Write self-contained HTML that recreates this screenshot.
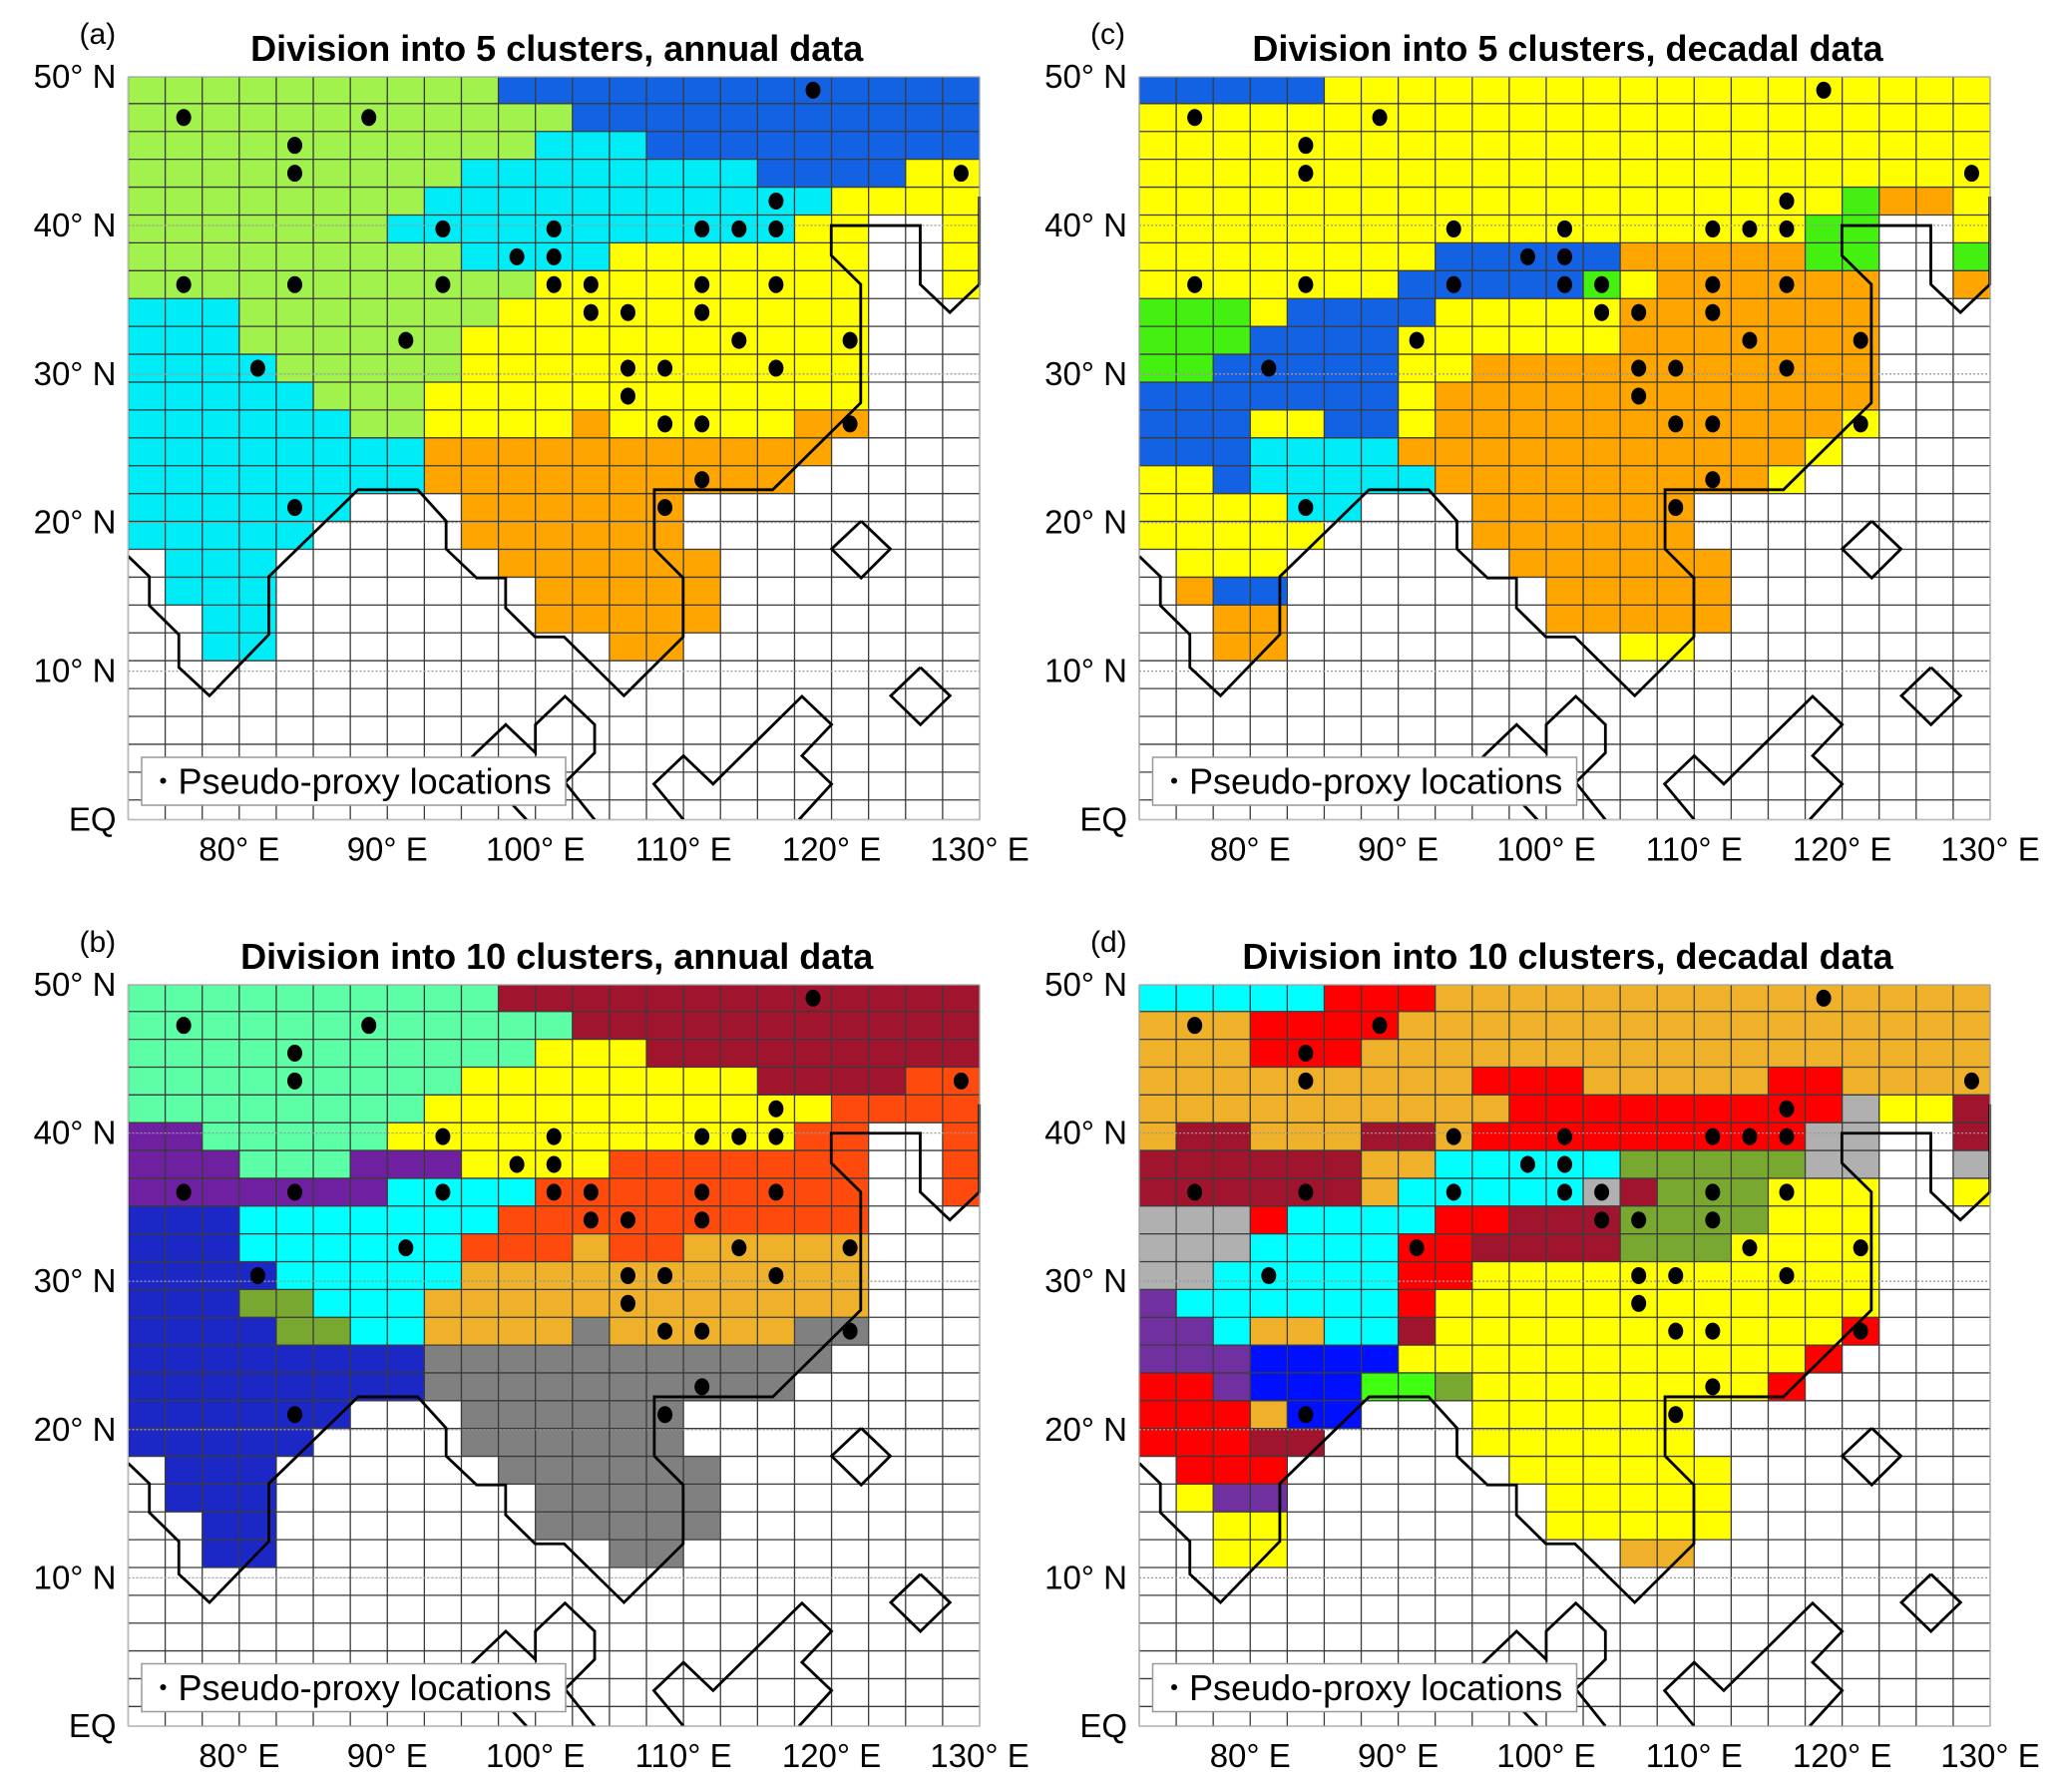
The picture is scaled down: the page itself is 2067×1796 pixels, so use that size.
<!DOCTYPE html>
<html><head><meta charset="utf-8">
<style>
html,body{margin:0;padding:0;background:#fff;}
svg{display:block;}
text{font-family:"Liberation Sans",Arial,sans-serif;}
</style></head>
<body>
<svg id="fig" width="2067" height="1796" viewBox="0 0 2067 1796" xmlns="http://www.w3.org/2000/svg"></svg>
<script>
// ---- data ----
const lonTicks = [80, 90, 100, 110, 120, 130];
const lonTickLabels = ["80° E", "90° E", "100° E", "110° E", "120° E", "130° E"];
const latTicks = [50, 40, 30, 20, 10, 0];
const latTickLabels = ["50° N", "40° N", "30° N", "20° N", "10° N", "EQ"];

const gridA = ["G10B13","G12B11","G11C3B9","G9C8B4Y2","G8C11Y4","G7C11Y2.2Y1","G9C4Y7.2Y1","G11Y9.2Y1",
"C3G7Y10.3","C3G6Y11.3","C4G5Y11.3","C5G3Y12.3","C6G2Y4O1Y5O2.3","C8O11.4","C8O10.5","C6.3O6.8",
"C5.4O6.8",".1C3.6O6.7",".1C3.7O5.7",".2C2.7O5.7",".2C2.9O2.8"];
const gridC = ["B5Y18","Y23","Y23","Y23","Y19G1O2Y1","Y18G2.2Y1","Y8B5O5G2.2G1","Y7B5G1Y1O6.2O1",
"G3Y1B4Y5O7.3","G3B4Y6O7.3","G2B5Y2O11.3","B7Y1O12.3","B3Y2B2Y1O11Y1.3","B3C4O11Y1.4","Y2B1C5O9Y1.5",
"Y4C2.3O6.8","Y5.4O6.8",".1Y3.6O6.7",".1O1B2.7O5.7",".2O2.7O5.7",".2O2.9Y2.8"];
const gridB = ["T10R13","T12R11","T11Y3R9","T9Y8R4E2","T8Y11E4","P2T5Y11E2.2E1","P3T3P3Y4E7.2E1","P7C4E9.2E1",
"N3C7E10.3","N3C6E3A1E2A5.3","N4C5A11.3","N3O2C3A12.3","N4O2C2A4K1A5K2.3","N8K11.4","N8K10.5",
"N6.3K6.8","N5.4K6.8",".1N3.6K6.7",".1N3.7K5.7",".2N2.7K5.7",".2N2.9K2.8"];
const gridD = ["C5E3A15","A3E4A16","A3E3A17","A9E3A5E2A4","A10E9K1Y2R1","A1R2A3R2A1E9K2.2R1","R6A2C5O5K2.2K1",
"R6A1C5K1R1O3Y3.2Y1","K3E1C4E2R3O4Y3.3","K3C4E2R4O3Y4.3","K2C5E2Y11.3","P1C6E1Y12.3","P2C1A2C2R1Y11E1.3",
"P3N4Y11E1.4","E2P1N3G2O1Y8E1.5","E3A1N2.3Y6.8","E3R2.4Y6.8",".1E3.6Y6.7",".1Y1P2.7Y5.7",".2Y2.7Y5.7",".2Y2.9A2.8"];

const colorsA = {G:"#a2f24e",B:"#1462e4",C:"#00ecf6",Y:"#ffff00",O:"#ffa500"};
const colorsC = {G:"#44f010",B:"#1462e4",C:"#00ecf6",Y:"#ffff00",O:"#ffa500"};
const colorsB = {T:"#5cffa6",R:"#a0142e",E:"#ff4a0e",P:"#6e20a0",C:"#00ffff",N:"#1c28c6",A:"#efb02a",O:"#78a830",K:"#808080",Y:"#ffff00"};
const colorsD = {C:"#00ffff",E:"#ff0000",A:"#efb02a",R:"#a0142e",K:"#b0b0b0",O:"#78a830",Y:"#ffff00",P:"#7030a0",N:"#0010ff",G:"#40ff10"};

// proxy locations as [column, row] grid indices
const dotCols = [18,1,6,4,4,22,17,8,11,15,16,17,10,11,1,4,8,11,12,15,17,12,13,15,7,16,19,3,13,14,17,13,14,15,19,15,4,14];
const dotRows = [0,1,1,2,3,3,4,5,5,5,5,5,6,6,7,7,7,7,7,7,7,8,8,8,9,9,9,10,10,10,10,11,12,12,12,14,15,15];

// coastline polylines [lon, lat]
const coastMain = [[72.5,17.73],[73.93,16.36],[73.93,14.41],[75.92,12.46],[75.92,10.25],[77.99,8.34],[82,12.46],[82,16.36],
[88.03,22.21],[92.05,22.21],[93.97,20.1],[93.97,18.22],[96.03,16.27],[97.99,16.27],[97.99,14.25],[99.98,12.3],[101.94,12.3],
[105.98,8.34],[109.98,12.3],[109.98,16.27],[108.03,18.22],[108.03,22.21],[116.03,22.21],[121.97,28.06],[121.97,36.03],
[119.98,37.98],[119.98,39.99],[125.99,39.99],[125.99,36.03],[127.99,34.14],[129.98,36.03],[129.98,41.94]];
const coastDiamond1 = [[122,20.1],[123.97,18.22],[122,16.27],[120,18.22],[122,20.1]];
const coastDiamond2 = [[126,10.25],[128,8.34],[126,6.39],[124,8.34],[126,10.25]];
const coastSumatra = [[94,2.5],[96,4.5],[98,6.4],[100,4.5],[100,6.4],[102,8.3],[104,6.4],[104,4.5],[102,2.5],[104,0]];
const coastSumatra2 = [[98,1.5],[99.4,0]];
const coastBorneo = [[110,0],[108,2.4],[110,4.3],[112,2.4],[118,8.3],[120,6.4],[118,4.3],[120,2.4],[117.8,0]];

const panels = [
 {id:"a", label:"(a)", title:"Division into 5 clusters, annual data", grid:gridA, colors:colorsA, x0:128.5, x1:982, y0:77, y1:821.5},
 {id:"c", label:"(c)", title:"Division into 5 clusters, decadal data", grid:gridC, colors:colorsC, x0:1142, x1:1995, y0:77, y1:821.5},
 {id:"b", label:"(b)", title:"Division into 10 clusters, annual data", grid:gridB, colors:colorsB, x0:128.5, x1:982, y0:987, y1:1730},
 {id:"d", label:"(d)", title:"Division into 10 clusters, decadal data", grid:gridD, colors:colorsD, x0:1142, x1:1995, y0:987, y1:1730}
];

// ---- drawing ----
const NS = "http://www.w3.org/2000/svg";
const svg = document.getElementById("fig");
const NCOL = 23, NROW = 27, LON0 = 72.5, LON1 = 130;
function mk(tag, attrs, parent){ const e=document.createElementNS(NS,tag); for(const k in attrs) e.setAttribute(k,attrs[k]); (parent||svg).appendChild(e); return e; }
function rowTop(k){ return k===0 ? 50 : 48.2 - 1.875*(k-1); }
function rowBot(k){ return k===NROW-1 ? 0 : 48.2 - 1.875*k; }
function decode(s){ const out=[]; const re=/([A-Z.])(\d+)/g; let m; while((m=re.exec(s))) for(let i=0;i<+m[2];i++) out.push(m[1]); while(out.length<NCOL) out.push("."); return out; }

panels.forEach(p=>{
  const xs = lon => p.x0 + (lon-LON0)/(LON1-LON0)*(p.x1-p.x0);
  const ys = lat => p.y1 - lat/50*(p.y1-p.y0);
  const g = mk("g",{});
  
  

  const cg = mk("g",{},g);
  
  
  for(let r=0;r<NROW;r++){
    const row = r<p.grid.length ? decode(p.grid[r]) : decode("");
    for(let c=0;c<NCOL;c++){
      const k=row[c]; if(k===".") continue;
      const xa=xs(LON0+2.5*c), xb=xs(LON0+2.5*(c+1)), ya=ys(rowTop(r)), yb=ys(rowBot(r));
      const rc = mk("rect",{x:xa,y:ya,width:xb-xa,height:yb-ya,fill:p.colors[k]},cg);
      
      
    }
  }
  const gl = mk("g",{stroke:"#3a3a3a","stroke-width":1.3},g);
  
  
  for(let c=0;c<=NCOL;c++){ const x=xs(LON0+2.5*c); mk("line",{x1:x,x2:x,y1:p.y0,y2:p.y1},gl); }
  for(let r=0;r<NROW;r++){ const y=ys(rowBot(r)); mk("line",{x1:p.x0,x2:p.x1,y1:y,y2:y},gl); }
  mk("line",{x1:p.x0,x2:p.x1,y1:p.y0,y2:p.y0},gl);
  [10,20,30,40].forEach(l=>{ const y=ys(l); const d=mk("line",{x1:p.x0,x2:p.x1,y1:y,y2:y,stroke:"#999","stroke-width":1.3,"stroke-dasharray":"2 2"},g);
    
     });
  [coastMain,coastDiamond1,coastDiamond2,coastSumatra,coastSumatra2,coastBorneo].forEach(line=>{
    const pl = mk("polyline",{points:line.map(q=>xs(q[0])+","+ys(q[1])).join(" "),fill:"none",stroke:"#000","stroke-width":2.8,"stroke-linejoin":"miter"},g);
    
    
  });
  for(let i=0;i<dotCols.length;i++){
    const cx = xs(LON0+2.5*(dotCols[i]+0.5)), cy = (ys(rowTop(dotRows[i]))+ys(rowBot(dotRows[i])))/2;
    const e = mk("ellipse",{cx:cx,cy:cy,rx:7.5,ry:8.5,fill:"#000"},g);
    
    
  }
  mk("rect",{x:p.x0,y:p.y0,width:p.x1-p.x0,height:p.y1-p.y0,fill:"none",stroke:"#bbb","stroke-width":1},g);
  const lg = mk("g",{},g);
  
  
  mk("rect",{x:p.x0+13.5,y:p.y1-62.5,width:425,height:48,fill:"#fff",stroke:"#999","stroke-width":1.5},lg);
  mk("circle",{cx:p.x0+35,cy:p.y1-39,r:3,fill:"#000"},lg);
  const lt = mk("text",{x:p.x0+50,y:p.y1-26,"font-size":36,fill:"#000"},lg);
  lt.textContent = "Pseudo-proxy locations";
  
  
  const t = mk("text",{x:(p.x0+p.x1)/2+3,y:p.y0-16,"font-size":36,"font-weight":"bold","text-anchor":"middle"},g);
  t.textContent = p.title;
  
  
  const pl2 = mk("text",{x:p.x0-49,y:p.y0-33,"font-size":30},g);
  pl2.textContent = p.label;
  
  
  latTicks.forEach((l,i)=>{ const tx=mk("text",{x:p.x0-12,y:ys(l)+11,"font-size":33,"text-anchor":"end"},g);
    tx.textContent = latTickLabels[i];
    
     });
  lonTicks.forEach((l,i)=>{ const tx=mk("text",{x:xs(l),y:p.y1+41,"font-size":33,"text-anchor":"middle"},g);
    tx.textContent = lonTickLabels[i];
    
     });
});
</script>
</body></html>
